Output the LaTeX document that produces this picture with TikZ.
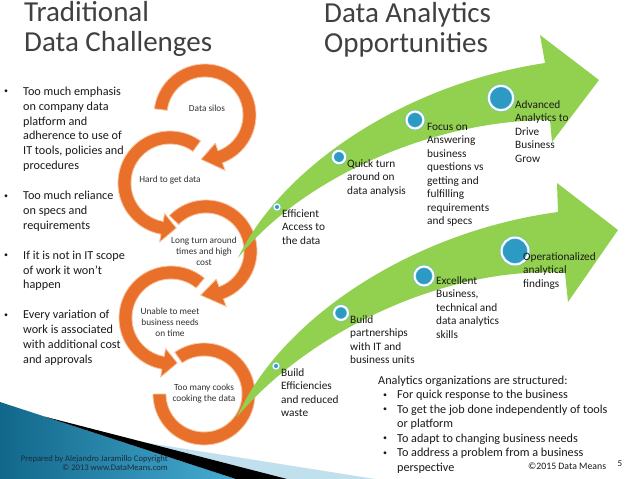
\documentclass[tikz,border=0pt]{standalone}
\usepackage{fontspec}
\setmainfont{Carlito}
\definecolor{orng}{HTML}{E8702A}
\definecolor{orngedge}{HTML}{F7C6A3}
\definecolor{grn}{HTML}{92D050}
\definecolor{dotblue}{HTML}{2C9AC3}
\definecolor{dotedge}{HTML}{6CC0E0}
\definecolor{titlegray}{HTML}{404040}
\definecolor{txt}{HTML}{1A1A1A}
\definecolor{bluedark}{HTML}{11678A}
\definecolor{bluelight}{HTML}{46ACD2}
\definecolor{paleblue}{HTML}{C0E0ED}
\definecolor{foot}{HTML}{1C2C3C}
\newcommand{\smallbul}{\raisebox{0.12em}{\scalebox{0.65}{•}}}
\tikzset{
  ring/.style={fill=orng, draw=orngedge, line width=0.8pt, line join=round},
  garrow/.style={fill=grn},
  gdot/.style={circle, inner sep=0pt, fill=dotblue, draw=dotedge, line width=0.5pt,
    double=white, double distance=2pt, minimum size=#1},
  sdot/.style={circle, inner sep=0pt, fill=dotblue, draw=dotedge, line width=0.4pt,
    double=white, double distance=1.2pt, minimum size=#1},
  glabel/.style={anchor=north west, inner sep=0pt, align=left, text=txt,
    font=\fontsize{11.3}{13.5}\selectfont},
  rlabel/.style={anchor=center, inner sep=0pt, align=center, text=txt!90,
    font=\fontsize{9.3}{11}\selectfont},
  titletext/.style={anchor=north west, inner sep=0pt, align=left, text=titlegray,
    font=\fontsize{29}{30}\selectfont},
  bodytext/.style={anchor=north west, inner sep=0pt, align=left, text=txt},
}
\begin{document}
\begin{tikzpicture}[x=1pt,y=-1pt]
\useasboundingbox (0,0) rectangle (638,479);
\fill[white] (0,0) rectangle (638,479);

% bottom-left decoration
\fill[paleblue] (110,437) -- (375,479) -- (230,479) -- cycle;
\shade[left color=bluedark, right color=bluelight] (0,402) -- (236,479) -- (0,479) -- cycle;
\fill[black] (45,416.7) -- (287,479) -- (236,479) -- cycle;

% orange circular arrows
\path[ring] plot[domain=187:430, samples=60] ({205+51*cos(\x)},{115+51*sin(\x)})
  -- ({205+59*cos(430)},{115+59*sin(430)})
  -- ({205+44.5*cos(455)},{115+44.5*sin(455)})
  -- ({205+30*cos(430)},{115+30*sin(430)})
  -- plot[domain=430:187, samples=60] ({205+38*cos(\x)},{115+38*sin(\x)}) -- cycle;

\path[ring] plot[domain=306:100, samples=60] ({170+52*cos(\x)},{183+52*sin(\x)})
  -- ({170+60*cos(100)},{183+60*sin(100)})
  -- ({170+45.5*cos(82)},{183+45.5*sin(82)})
  -- ({170+31*cos(100)},{183+31*sin(100)})
  -- plot[domain=100:306, samples=60] ({170+39*cos(\x)},{183+39*sin(\x)}) -- cycle;

\path[ring] plot[domain=224:430, samples=60] ({206+51*cos(\x)},{251+51*sin(\x)})
  -- ({206+59*cos(430)},{251+59*sin(430)})
  -- ({206+44.5*cos(457)},{251+44.5*sin(457)})
  -- ({206+30*cos(430)},{251+30*sin(430)})
  -- plot[domain=430:224, samples=60] ({206+38*cos(\x)},{251+38*sin(\x)}) -- cycle;

\path[ring] plot[domain=310:100, samples=60] ({171+52*cos(\x)},{318+52*sin(\x)})
  -- ({171+60*cos(100)},{318+60*sin(100)})
  -- ({171+45.5*cos(82)},{318+45.5*sin(82)})
  -- ({171+31*cos(100)},{318+31*sin(100)})
  -- plot[domain=100:310, samples=60] ({171+39*cos(\x)},{318+39*sin(\x)}) -- cycle;

\path[ring] plot[domain=235:540, samples=80] ({204+51*cos(\x)},{394+51*sin(\x)})
  -- plot[domain=540:235, samples=80] ({204+38*cos(\x)},{394+38*sin(\x)}) -- cycle;

% ring labels
\node[rlabel] (r1) at (207,108) {Data silos};
\node[rlabel] (r2) at (170,180) {Hard to get data};
\node[rlabel] (r3) at (204,251) {Long turn around\\times and high\\cost};
\node[rlabel] (r4) at (170,322) {Unable to meet\\business needs\\on time};
\node[rlabel] (r5) at (204,394) {Too many cooks\\cooking the data};

% green arrows
\path[garrow] (238,258) .. controls (280,170) and (400,85) .. (545,63)
  -- (540,35) -- (599,80) -- (552,142) -- (550,120)
  .. controls (430,120) and (300,180) .. (238,258) -- cycle;
\path[garrow] (237,417) .. controls (280,320) and (410,232) .. (558,212)
  -- (557,183) -- (618,230) -- (568,302) -- (565,273)
  .. controls (450,265) and (310,330) .. (237,417) -- cycle;

% dots
\node[sdot=6] (e1) at (277,207) {};
\node[gdot=12.6] (e2) at (339,157) {};
\node[gdot=17] (e3) at (415,120) {};
\node[gdot=24.6] (e4) at (501,98) {};
\node[sdot=6] (f1) at (276,366) {};
\node[gdot=14] (f2) at (341,313) {};
\node[gdot=19] (f3) at (424,276) {};
\node[gdot=27] (f4) at (515,251) {};

% green labels
\node[glabel] (t1) at (282,207.5) {\strut Efficient\\Access to\\the data};
\node[glabel] (t2) at (347,157.5) {\strut Quick turn\\around on\\data analysis};
\node[glabel] (t3) at (427,120.5) {\strut Focus on\\Answering\\business\\questions vs\\getting and\\fulfilling\\requirements\\and specs};
\node[glabel] (t4) at (515,98.5) {\strut Advanced\\Analytics to\\Drive\\Business\\Grow};
\node[glabel] (u1) at (281,366.5) {\strut Build\\Efficiencies\\and reduced\\waste};
\node[glabel] (u2) at (350,313.5) {\strut Build\\partnerships\\with IT and\\business units};
\node[glabel] (u3) at (436,274.5) {\strut Excellent\\Business,\\technical and\\data analytics\\skills};
\node[glabel] (u4) at (523,250.5) {\strut Operationalized\\analytical\\findings};

% titles
\node[titletext] (title1) at (24,0) {\strut Traditional\\Data Challenges};
\node[titletext] (title2) at (324,1) {\strut Data Analytics\\Opportunities};

% left bullets
\node[bodytext, font=\fontsize{12.2}{14.9}\selectfont] (left) at (4,84.6) {%
\strut\makebox[19pt][l]{\smallbul}Too much emphasis\\
\hspace*{19pt}on company data\\
\hspace*{19pt}platform and\\
\hspace*{19pt}adherence to use of\\
\hspace*{19pt}IT tools, policies and\\
\hspace*{19pt}procedures\\[14.9pt]
\makebox[19pt][l]{\smallbul}Too much reliance\\
\hspace*{19pt}on specs and\\
\hspace*{19pt}requirements\\[14.9pt]
\makebox[19pt][l]{\smallbul}If it is not in IT scope\\
\hspace*{19pt}of work it won’t\\
\hspace*{19pt}happen\\[14.9pt]
\makebox[19pt][l]{\smallbul}Every variation of\\
\hspace*{19pt}work is associated\\
\hspace*{19pt}with additional cost\\
\hspace*{19pt}and approvals};

% bottom text
\node[bodytext, font=\fontsize{12.2}{14.5}\selectfont] (org) at (378,373.9) {%
\strut Analytics organizations are structured:\\
\hspace*{5pt}\makebox[14pt][l]{\smallbul}For quick response to the business\\
\hspace*{5pt}\makebox[14pt][l]{\smallbul}To get the job done independently of tools\\
\hspace*{19pt}or platform\\
\hspace*{5pt}\makebox[14pt][l]{\smallbul}To adapt to changing business needs\\
\hspace*{5pt}\makebox[14pt][l]{\smallbul}To address a problem from a business\\
\hspace*{19pt}perspective};

% footer
\node[anchor=north east, inner sep=0pt, align=right, text=foot,
  font=\fontsize{8.6}{9}\selectfont] (prep) at (168,455.4)
  {\strut Prepared by Alejandro Jaramillo Copyright\\© 2013 www.DataMeans.com};
\node[anchor=base west, inner sep=0pt, text=txt, font=\fontsize{9.8}{11}\selectfont]
  (copy) at (528,469) {©2015 Data Means};
\node[anchor=base, inner sep=0pt, text=txt, font=\fontsize{9}{11}\selectfont]
  (pg) at (620,466) {5};
\end{tikzpicture}
\end{document}
